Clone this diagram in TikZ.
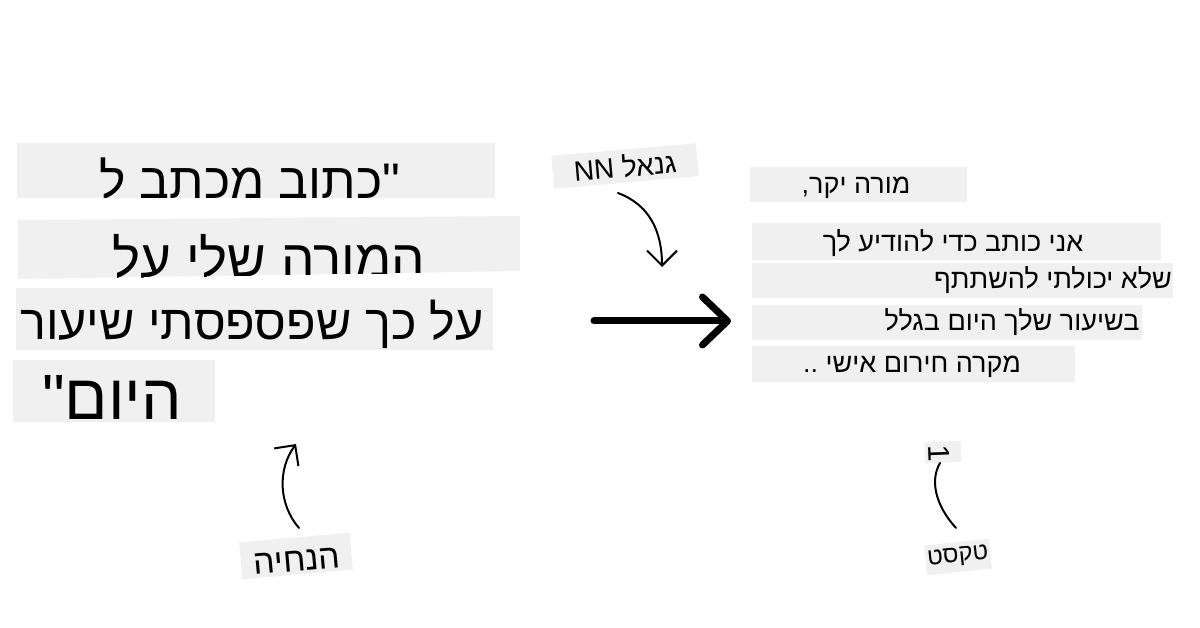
\documentclass[tikz,border=0pt]{standalone}
\usepackage{fontspec}
\setmainfont{Liberation Sans}
\newfontfamily\hebfont[Script=Hebrew]{Liberation Sans}
\TeXXeTstate=1
\usetikzlibrary{arrows.meta}
\tikzset{>={Straight Barb[length=15pt,width=30pt]}}
\definecolor{slipgray}{HTML}{F0F0F0}
\newcommand{\HEB}[1]{{\hebfont\beginR #1\endR}}

\begin{document}
\begin{tikzpicture}[x=1pt,y=-1pt,
  slip/.style={fill=slipgray},
  prompttext/.style={font=\fontsize{50}{56}\selectfont, inner sep=0pt, anchor=base},
  lettertext/.style={font=\fontsize{27}{30}\selectfont, inner sep=0pt, anchor=base},
  tag/.style={fill=slipgray, inner sep=0pt, font=\fontsize{28}{32}\selectfont},
  pointer/.style={->, line width=2pt, line cap=round}]

  \fill[white] (0,0) rectangle (1200,628);
  \useasboundingbox (0,0) rectangle (1200,628);

  %% prompt slips
  \begin{scope}
    \clip (17,143) rectangle (495,198);
    \fill[slip] (17,143) rectangle (495,198);
    \node[prompttext] (p1) at (250,199) {\HEB{"כתוב מכתב ל}};
  \end{scope}
  \begin{scope}
    \clip (18,220) -- (520,216) -- (520,271) -- (18,279) -- cycle;
    \fill[slip] (18,220) -- (520,216) -- (520,271) -- (18,279) -- cycle;
    \node[prompttext, font=\fontsize{53}{58}\selectfont] (p2) at (269,278) {\HEB{המורה שלי על}};
  \end{scope}
  \fill[slip] (16,288) rectangle (493,350);
  \fill[slip] (13,360) rectangle (215,422);

  \node[prompttext, font=\fontsize{48.5}{54}\selectfont] (p3) at (252,340) {\HEB{על כך שפספסתי שיעור}};
  \node[prompttext, font=\fontsize{64}{70}\selectfont] (p4) at (112,420) {\HEB{היום"}};

  %% letter slips
  \fill[slip] (750,167) rectangle (967,202);
  \fill[slip] (752,223) rectangle (1161,260);
  \fill[slip] (752,263) rectangle (1173,298);
  \fill[slip] (752,305) rectangle (1142,340);
  \fill[slip] (752,346) rectangle (1075,382);

  \node[lettertext] (t1) at (856,194) {\HEB{מורה יקר,}};
  \node[lettertext] (t2) at (953,252) {\HEB{אני כותב כדי להודיע לך}};
  \node[lettertext] (t3) at (1053,289) {\HEB{שלא יכולתי להשתתף}};
  \node[lettertext] (t4) at (1012,331) {\HEB{בשיעור שלך היום בגלל}};
  \node[lettertext] (t5) at (912,373) {\HEB{מקרה חירום אישי ..}};

  %% main arrow
  \coordinate (arrowFrom) at (594,321);
  \coordinate (arrowTo) at (731,321);
  \draw[line width=7pt, line cap=round,
    -{Straight Barb[length=25pt,width=48pt,round]}] (arrowFrom) -- (arrowTo);

  %% labels
  \node[tag, rotate=5, minimum width=145pt, minimum height=33pt]
    (model) at (625,166) {\HEB{גנאל \beginL NN\endL}};
  \node[tag, rotate=5, minimum width=111pt, minimum height=37pt] (prompt) at (296,556) {};
  \node[inner sep=0pt, rotate=5, font=\fontsize{34}{38}\selectfont]
    (promptText) at (297,561) {\HEB{הנחיה}};
  \node[tag, rotate=6, minimum width=65pt, minimum height=30pt, font=\fontsize{24}{28}\selectfont]
    (text) at (958,557) {\HEB{טקסט}};
  \node[tag, rotate=3, minimum width=36pt, minimum height=21pt] (one) at (943,452) {};
  \node[inner sep=0pt, rotate=-88, font=\fontsize{30}{32}\selectfont] (oneglyph) at (939,453) {1};

  \coordinate (modelTail) at (618,193);
  \coordinate (modelTip) at (662,267);
  \draw[pointer] (modelTail) .. controls (650,205) and (662,232) .. (modelTip);

  \coordinate (promptTail) at (299,528);
  \coordinate (promptTip) at (296,444);
  \draw[pointer] (promptTail) .. controls (279,505) and (277,470) .. (promptTip);

  \coordinate (textTail) at (956,528);
  \coordinate (textTop) at (940,463);
  \draw[line width=2pt, line cap=round] (textTail) .. controls (935,505) and (930,480) .. (textTop);

\end{tikzpicture}
\end{document}
